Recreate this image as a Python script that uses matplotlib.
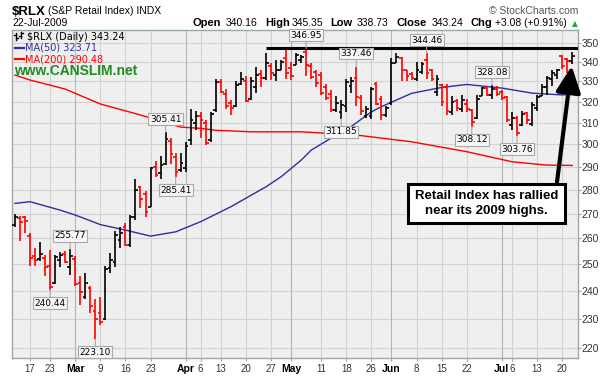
import numpy as np
import pandas as pd
import matplotlib
matplotlib.use("Agg")
import matplotlib.pyplot as plt
from matplotlib.collections import LineCollection
from matplotlib.lines import Line2D
from matplotlib.ticker import FixedLocator, NullLocator, FuncFormatter

# ---------- data ----------
holidays = ["2009-02-16", "2009-04-10", "2009-05-25", "2009-07-03"]
dates = pd.bdate_range("2009-02-11", "2009-07-22").drop(pd.to_datetime(holidays))

opens = [265.5, 268.2, 268.5, 261.0, 253.0, 251.8, 252.5, 249.5, 242.8, 251.5,
         254.0, 249.0, 252.0, 243.0, 238.0, 241.0, 233.0, 232.0, 230.0, 248.5,
         251.0, 259.5, 264.5, 257.5, 268.5, 281.0, 278.0, 272.7, 290.0, 287.0,
         291.0, 301.5, 294.0, 288.5, 289.5, 302.0, 310.0, 313.0, 310.0, 302.0,
         316.0, 329.5, 324.0, 319.5, 318.0, 328.5, 330.0, 321.5, 327.0, 334.0,
         331.5, 338.0, 333.0, 336.0, 342.0, 337.0, 338.5, 341.0, 345.0, 338.0,
         335.0, 333.0, 327.0, 324.0, 316.0, 315.0, 318.0, 327.5, 331.5, 322.0,
         313.0, 313.0, 328.5, 321.5, 313.5, 319.5, 339.5, 342.0, 335.6, 334.0,
         331.0, 335.0, 341.0, 336.0, 325.0, 328.0, 327.0, 315.0, 320.5, 316.5,
         319.0, 316.0, 312.0, 323.0, 326.5, 323.5, 326.0, 325.0, 322.5, 309.0,
         312.0, 309.0, 314.5, 309.5, 317.0, 323.0, 327.0, 331.0, 333.0, 343.0,
         341.5, 340.16]
highs = [269.8, 268.8, 269.1, 262.0, 256.2, 258.4, 253.6, 255.6, 253.6, 254.8,
         255.2, 255.77, 253.3, 245.6, 246.5, 242.0, 237.2, 237.7, 249.3, 254.2,
         263.0, 264.7, 266.0, 269.5, 284.6, 281.6, 279.4, 290.0, 292.6, 294.5,
         305.41, 302.7, 296.0, 296.0, 301.0, 316.5, 315.5, 315.0, 311.0, 315.0,
         331.0, 331.0, 326.0, 320.8, 330.0, 334.6, 332.9, 332.0, 337.4, 335.7,
         344.4, 339.3, 341.0, 341.0, 346.1, 340.0, 344.4, 343.5, 346.95, 339.3,
         335.6, 334.8, 328.6, 325.8, 322.9, 320.8, 331.0, 332.0, 337.46, 323.3,
         318.0, 327.1, 329.6, 322.9, 318.0, 341.9, 344.4, 342.5, 335.8, 334.8,
         340.0, 340.0, 344.46, 336.5, 333.0, 328.6, 328.6, 322.9, 321.3, 323.3,
         321.3, 316.5, 323.3, 327.0, 327.5, 328.08, 327.5, 325.8, 322.9, 315.0,
         313.0, 315.7, 315.0, 319.8, 323.3, 328.6, 332.9, 335.6, 336.5, 343.6,
         341.9, 345.35]
lows = [264.7, 258.8, 262.0, 249.3, 249.3, 251.2, 245.6, 240.44, 242.5, 249.0,
        250.3, 245.9, 242.0, 234.9, 237.2, 232.1, 223.10, 228.0, 229.7, 246.5,
        249.0, 256.2, 256.9, 256.5, 267.3, 272.3, 268.6, 272.5, 285.5, 284.6,
        290.5, 291.0, 285.41, 287.5, 287.7, 299.5, 306.5, 302.7, 299.6, 301.0,
        315.0, 324.3, 316.5, 313.4, 317.5, 328.0, 319.9, 320.8, 324.4, 327.0,
        330.8, 330.8, 330.0, 335.8, 331.0, 330.8, 338.2, 339.3, 332.9, 331.0,
        327.1, 323.3, 320.8, 315.0, 315.0, 311.85, 315.0, 324.3, 318.0, 313.4,
        312.3, 311.9, 318.3, 311.2, 312.5, 318.5, 339.5, 330.0, 330.0, 330.5,
        330.0, 334.0, 331.0, 330.0, 322.9, 318.0, 313.4, 313.4, 315.7, 315.0,
        315.0, 308.12, 311.8, 322.6, 322.6, 321.3, 322.9, 320.8, 310.3, 306.6,
        303.76, 308.5, 309.4, 308.5, 315.7, 322.6, 323.3, 327.5, 331.0, 336.5,
        334.2, 338.73]
closes = [268.5, 266.5, 267.0, 252.5, 251.5, 254.0, 249.0, 241.5, 252.8, 253.5,
          251.0, 253.2, 242.5, 239.5, 243.0, 234.5, 230.0, 229.0, 248.0, 251.5,
          261.5, 262.0, 257.5, 268.5, 280.0, 276.0, 270.5, 289.4, 286.5, 290.5,
          302.5, 295.5, 287.5, 291.5, 299.0, 311.0, 313.0, 311.0, 300.5, 314.0,
          329.5, 325.0, 318.0, 317.0, 328.0, 331.0, 320.5, 330.0, 333.0, 331.5,
          339.5, 334.5, 336.0, 340.0, 334.5, 332.5, 343.5, 342.5, 338.5, 332.0,
          329.0, 324.5, 322.0, 316.0, 319.5, 318.5, 329.5, 330.0, 322.5, 315.5,
          316.5, 326.0, 319.0, 313.5, 317.0, 339.3, 342.5, 336.0, 332.5, 331.5,
          336.0, 339.0, 334.5, 331.0, 331.0, 320.0, 315.5, 320.0, 317.0, 321.0,
          316.5, 310.5, 321.5, 326.5, 323.5, 326.0, 324.0, 322.0, 311.0, 312.0,
          305.0, 314.0, 311.0, 318.5, 322.5, 327.0, 331.5, 334.5, 336.0, 338.0,
          340.16, 343.24]

# moving averages, read at sample bars
ma50_idx = [0, 3, 9, 12, 17, 22, 27, 32, 37, 43, 50, 53, 57, 59, 64, 66, 71, 73,
            79, 85, 90, 97, 103, 109, 111]
ma50 = [274.2, 274.9, 271.4, 269.4, 265.5, 263.3, 260.9, 262.6, 266.7, 272.8,
        281.2, 285.5, 292.8, 297.3, 304.2, 306.5, 315.1, 317.6, 324.1, 327.0,
        328.5, 326.7, 324.2, 323.3, 323.71]
ma200_idx = [0, 3, 10, 17, 25, 33, 37, 40, 47, 57, 68, 79, 90, 99, 106, 111]
ma200 = [333.2, 330.7, 326.2, 318.9, 313.6, 307.9, 307.3, 306.4, 305.7, 305.7,
         304.2, 301.1, 296.6, 292.1, 290.6, 290.48]

# labelled swing points (bar index, high/low)
swing_highs = [11, 30, 58, 68, 82, 95]
swing_lows = [7, 16, 32, 65, 91, 100]
resist_start = 50

tick_dates = ["2009-02-17", "2009-02-23", "2009-03-02", "2009-03-09", "2009-03-16",
              "2009-03-23", "2009-04-01", "2009-04-06", "2009-04-13", "2009-04-20",
              "2009-04-27", "2009-05-01", "2009-05-11", "2009-05-18", "2009-05-26",
              "2009-06-01", "2009-06-08", "2009-06-15", "2009-06-22", "2009-07-01",
              "2009-07-06", "2009-07-13", "2009-07-20"]
tick_labels = ["17", "23", "Mar", "9", "16", "23", "Apr", "6", "13", "20", "27",
               "May", "11", "18", "26", "Jun", "8", "15", "22", "Jul", "6", "13", "20"]
months = {"Mar", "Apr", "May", "Jun", "Jul"}

# ---------- figure ----------
W, H = 614, 378
fig = plt.figure(figsize=(W / 100, H / 100), dpi=100)
fx = lambda x: x / W
fy = lambda y: 1 - y / H

ax = fig.add_axes([fx(12.3), fy(358), (577.7 - 12.3) / W, (358 - 29.5) / H])
ax.set_facecolor("#efefef")
ax.set_yscale("log")
ax.set_xlim(-0.54, 112.1)
ax.set_ylim(216.8, 357.1)

# grid
yt = list(range(220, 351, 10))
for v in yt:
    ax.axhline(v, color="#d2d2d2", lw=0.8, zorder=0)
tick_pos = [dates.get_loc(pd.Timestamp(d)) for d in tick_dates]
for p, lab in zip(tick_pos, tick_labels):
    ax.axvline(p, color="#b4b4b4" if lab in months else "#d2d2d2", lw=0.8, zorder=0)

# OHLC bars
segs, cols = [], []
for i, (o, h, l, c) in enumerate(zip(opens, highs, lows, closes)):
    col = "#ff0000" if c < o else "#000000"
    segs += [[(i, l), (i, h)], [(i - 0.55, o), (i, o)], [(i, c), (i + 0.55, c)]]
    cols += [col] * 3
ax.add_collection(LineCollection(segs, colors=cols, linewidths=1.2, zorder=3))

ax.plot(ma200_idx, ma200, color="#ff0000", lw=1.0, zorder=2)
ax.plot(ma50_idx, ma50, color="#2e2e9e", lw=1.0, zorder=2)

# resistance line at the May high
ax.hlines(highs[58], resist_start, 112.1, color="black", lw=2.2, zorder=4)

box = dict(boxstyle="square,pad=0.15", fc="#f6f6f6", ec="#a8a8a8", lw=0.8)
for i in swing_highs:
    ax.annotate(f"{highs[i]:.2f}", xy=(i, highs[i]), xytext=(0, 9.5),
                textcoords="offset points", ha="center", va="center",
                fontsize=6.5, family="DejaVu Sans", bbox=box, zorder=6,
                arrowprops=dict(arrowstyle="-", color="#a8a8a8", lw=0.8,
                                shrinkA=0, shrinkB=0))
for i in swing_lows:
    ax.annotate(f"{lows[i]:.2f}", xy=(i, lows[i]), xytext=(0, -9.5),
                textcoords="offset points", ha="center", va="center",
                fontsize=6.5, family="DejaVu Sans", bbox=box, zorder=6,
                arrowprops=dict(arrowstyle="-", color="#a8a8a8", lw=0.8,
                                shrinkA=0, shrinkB=0))

# axes styling
for s in ax.spines.values():
    s.set_color("#9aa8a8")
    s.set_linewidth(1.0)
ax.yaxis.tick_right()
ax.yaxis.set_major_locator(FixedLocator(yt))
ax.yaxis.set_minor_locator(NullLocator())
ax.yaxis.set_major_formatter(FuncFormatter(lambda v, _: f"{v:.0f}"))
ax.tick_params(axis="y", length=2, pad=1, labelsize=7.5, colors="#9aa8a8",
               labelcolor="#333333")
ax.set_xticks(tick_pos)
ax.set_xticklabels(tick_labels)
ax.tick_params(axis="x", length=2, pad=2, labelsize=7, colors="#9aa8a8",
               labelcolor="#333333")
for t in ax.get_xticklabels():
    t.set_family("Liberation Sans")
    if t.get_text() in months:
        t.set_fontweight("bold")
        t.set_color("black")
        t.set_fontsize(7.5)
for t in ax.get_yticklabels():
    t.set_family("Liberation Sans")

# header
fig.text(fx(11.5), fy(15), "$RLX", fontsize=9.5, fontweight="bold", family="Liberation Sans")
fig.text(fx(48), fy(14.5), "(S&P Retail Index) INDX", fontsize=7.5, family="Liberation Sans")
fig.text(fx(12.5), fy(26.5), "22-Jul-2009", fontsize=7.5, family="Liberation Sans")
fig.text(fx(578), fy(14), "\u00a9 StockCharts.com", fontsize=7.5, color="#555555",
         family="Liberation Sans", ha="right")
hdr = [("Open", 193, True), ("340.16", 226, False), ("High", 265, True),
       ("345.35", 291.5, False), ("Low", 330.5, True), ("338.73", 357, False),
       ("Close", 396.5, True), ("343.24", 431.5, False), ("Chg", 470.5, True),
       ("+3.08 (+0.91%)", 495, False)]
for txt, x, b in hdr:
    fig.text(fx(x), fy(26.5), txt, fontsize=8 if b else 7.5,
             fontweight="bold" if b else "normal", family="Liberation Sans")
fig.text(fx(575), fy(26), "\u25b2", fontsize=5.5, color="#22aa22", ha="center",
         family="DejaVu Sans")

# in-chart legend
for x0, ys in [(16, (33, 40, 35, 38)), (21, (32, 38, 36, 33))]:
    fig.add_artist(Line2D([fx(x0), fx(x0)], [fy(ys[0]), fy(ys[1])], color="black", lw=1))
    fig.add_artist(Line2D([fx(x0 - 2), fx(x0)], [fy(ys[2]), fy(ys[2])], color="black", lw=1))
    fig.add_artist(Line2D([fx(x0), fx(x0 + 2)], [fy(ys[3]), fy(ys[3])], color="black", lw=1))
fig.text(fx(27), fy(40), "$RLX (Daily) 343.24", fontsize=7, family="DejaVu Sans")
fig.add_artist(Line2D([fx(15), fx(24)], [fy(47.5), fy(47.5)], color="#2e2e9e", lw=1.6))
fig.text(fx(25), fy(51), "MA(50) 323.71", fontsize=7, family="DejaVu Sans", color="#2e2e9e")
fig.add_artist(Line2D([fx(15), fx(24)], [fy(58.5), fy(58.5)], color="#ff0000", lw=1.6))
fig.text(fx(25), fy(62), "MA(200) 290.48", fontsize=7, family="DejaVu Sans", color="#ff0000")
fig.text(fx(14.5), fy(75), "www.CANSLIM.net", fontsize=10, fontweight="bold",
         family="Liberation Sans", color="#1e8c1e")

# call-out box and arrow
fig.text(fx(486.7), fy(203.5), "Retail Index has rallied\nnear its 2009 highs.",
         ha="center", va="center", fontsize=9.5, fontweight="bold", linespacing=1.3,
         family="Liberation Sans",
         bbox=dict(boxstyle="square,pad=0.5", fc="white", ec="black", lw=2.2),
         zorder=7)
ax.annotate("", xy=(571.7, H - 66), xycoords="figure pixels",
            xytext=(557, H - 182), textcoords="figure pixels",
            arrowprops=dict(arrowstyle="-|>,head_length=0.8,head_width=0.38",
                            mutation_scale=20, lw=3, color="black",
                            shrinkA=0, shrinkB=0), zorder=8)

fig.savefig("out.png", dpi=100)
